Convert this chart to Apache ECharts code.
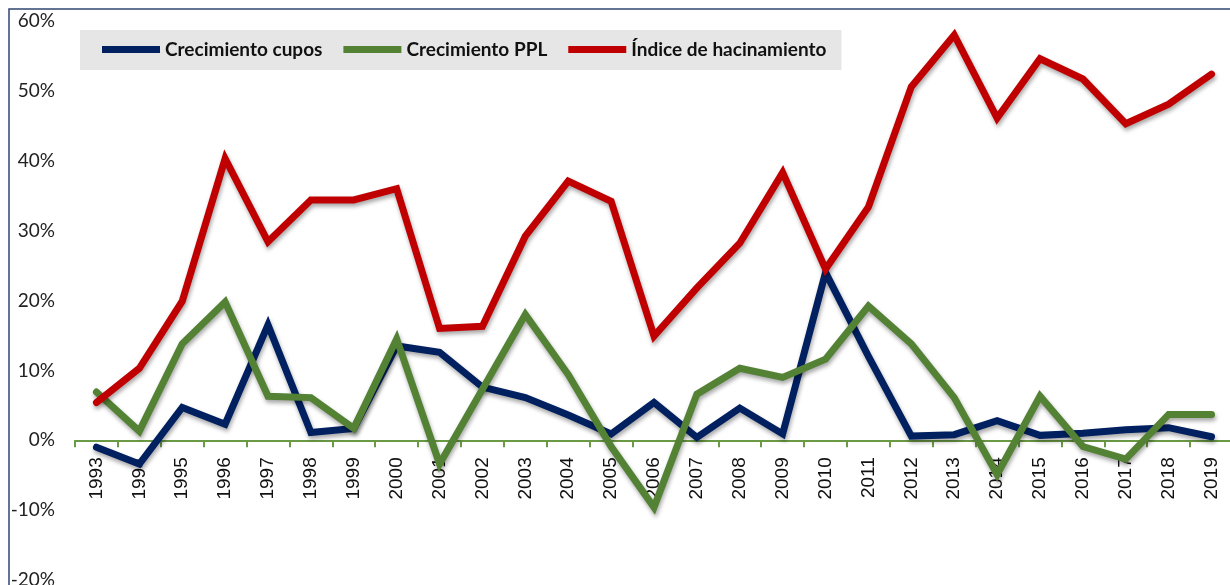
<!DOCTYPE html>
<html>
<head>
<meta charset="utf-8">
<script src="https://cdn.jsdelivr.net/npm/echarts@6/dist/echarts.min.js"></script>
<style>
  html, body { margin: 0; padding: 0; background: #fff; }
  #chart { width: 1230px; height: 585px; }
</style>
</head>
<body>
<div id="chart"></div>
<script>
// --- data (values in %) ---
var years = ['1993', '1994', '1995', '1996', '1997', '1998', '1999', '2000', '2001', '2002',
  '2003', '2004', '2005', '2006', '2007', '2008', '2009', '2010', '2011', '2012',
  '2013', '2014', '2015', '2016', '2017', '2018', '2019'];
var cupos = [-1.0, -3.4, 4.7, 2.3, 16.5, 1.1, 1.7, 13.5, 12.6, 7.6,
  6.1, 3.6, 0.9, 5.4, 0.4, 4.6, 0.9, 24.0, 12.0, 0.6,
  0.8, 2.8, 0.7, 1.0, 1.5, 1.8, 0.5];
var ppl = [6.9, 1.3, 13.8, 19.8, 6.3, 6.1, 1.7, 14.5, -3.4, 7.3,
  18.0, 9.4, -0.9, -9.6, 6.6, 10.3, 9.0, 11.6, 19.2, 13.8,
  6.1, -4.9, 6.3, -0.9, -2.7, 3.7, 3.7];
var hacinamiento = [5.4, 10.3, 19.9, 40.3, 28.4, 34.4, 34.4, 36.0, 16.0, 16.3,
  29.2, 37.1, 34.2, 14.9, 21.8, 28.2, 38.3, 24.5, 33.4, 50.6,
  58.0, 46.1, 54.6, 51.7, 45.3, 48.1, 52.4];
var seriesNames = ['Crecimiento cupos', 'Crecimiento PPL', 'Índice de hacinamiento'];
var seriesColors = ['#002060', '#548235', '#c00000'];

var yMin = -20, yMax = 60;
var gridTop = 21, gridBottom = 5, chartH = 585;
// the category axis sits on the 0% line: shift it up from the grid bottom
var plotH = chartH - gridTop - gridBottom;
var zeroOffset = -plotH * (0 - yMin) / (yMax - yMin);

var chart = echarts.init(document.getElementById('chart'), null, { renderer: 'canvas' });

function lineSeries(i, data) {
  return {
    name: seriesNames[i], type: 'line', data: data,
    symbol: 'none', smooth: false,
    lineStyle: {
      color: seriesColors[i], width: 7, cap: 'round', join: 'miter',
      shadowColor: 'rgba(0,0,0,0.35)', shadowBlur: 4, shadowOffsetY: 3, shadowOffsetX: 1
    },
    itemStyle: { color: seriesColors[i] }
  };
}

chart.setOption({
  animation: false,
  backgroundColor: '#fff',
  graphic: [{
    type: 'rect', z: 100, silent: true,
    shape: { x: 9, y: 9, width: 1260, height: 620 },
    style: { fill: null, stroke: '#2f4670', lineWidth: 1.5 }
  }],
  legend: {
    left: 80, top: 30,
    backgroundColor: '#e6e6e6',
    padding: [10, 15, 11, 22],
    itemGap: 21, itemWidth: 58, itemHeight: 7,
    icon: 'rect',
    textStyle: { fontFamily: 'Lato', fontWeight: 'bold', fontSize: 19, color: '#111' },
    data: seriesNames
  },
  grid: { left: 75, right: -3, top: gridTop, bottom: gridBottom, containLabel: false, outerBoundsMode: 'none' },
  xAxis: {
    type: 'category', data: years, boundaryGap: true,
    offset: zeroOffset,
    axisLine: { onZero: false, lineStyle: { color: '#6b9a45', width: 2 } },
    axisTick: { show: true, length: 7, lineStyle: { color: '#6b9a45', width: 2 } },
    axisLabel: { rotate: 90, margin: 17, fontFamily: 'Liberation Sans', fontSize: 19, color: '#111', interval: 0 }
  },
  yAxis: {
    type: 'value', min: yMin, max: yMax, interval: 10,
    axisLine: { show: false }, axisTick: { show: false },
    splitLine: { show: false },
    axisLabel: { formatter: '{value}%', margin: 20, fontFamily: 'Lato', fontSize: 19, color: '#222' }
  },
  series: [lineSeries(0, cupos), lineSeries(1, ppl), lineSeries(2, hacinamiento)]
});
</script>
</body>
</html>
